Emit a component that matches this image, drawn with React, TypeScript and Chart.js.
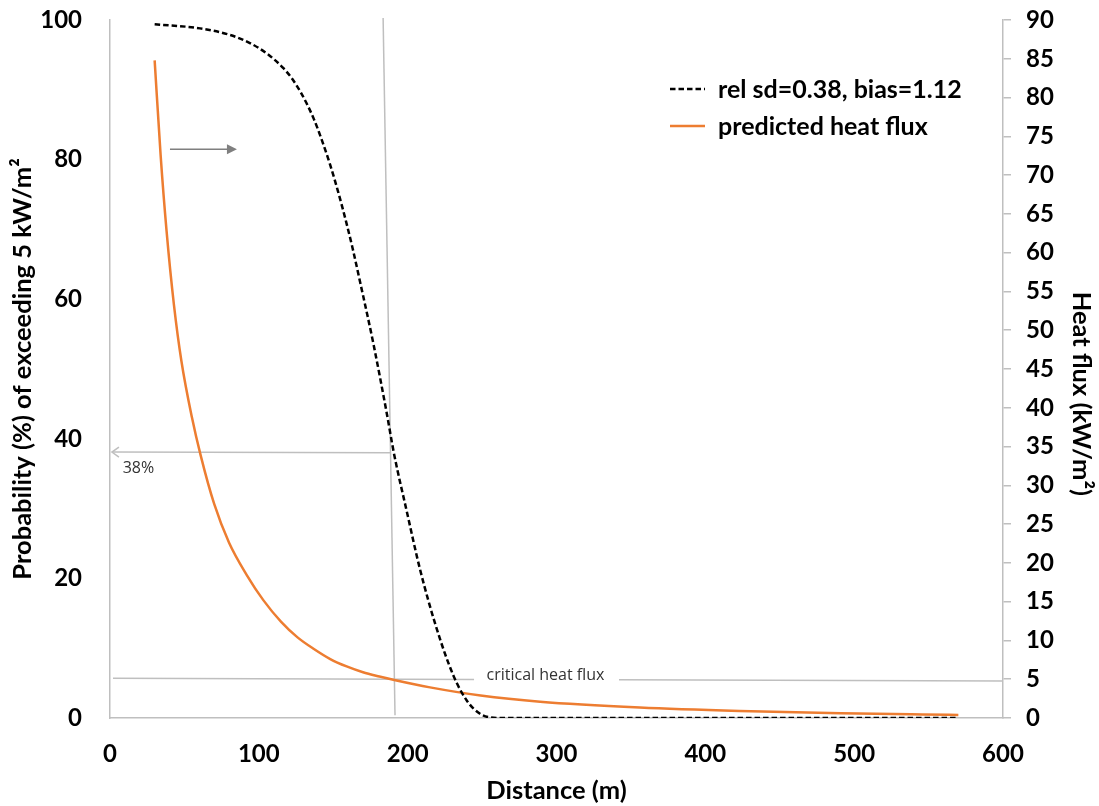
import React, { useEffect, useRef } from 'react';
import { Chart, registerables } from 'chart.js';

Chart.register(...registerables);

// Probability (%) of exceeding 5 kW/m² (left axis)
const probDistance = [30, 60.5, 80, 94, 106, 116.5, 122, 128, 132, 137, 142, 148, 153, 159, 163, 168, 177, 186, 190.8, 199.4, 208.3, 219.5, 230.7, 239.7, 248.6, 255, 265, 300, 400, 500, 570];
const probValues = [99.4, 98.8, 97.9, 96.7, 95.1, 93.1, 91.7, 89.7, 88.1, 85.8, 83.0, 79.2, 75.6, 70.8, 67.3, 62.5, 53.6, 43.6, 37.9, 29.6, 21.3, 12.8, 6.1, 2.5, 0.6, 0.1, 0, 0, 0, 0, 0];

// Predicted heat flux (kW/m², right axis)
const fluxDistance = [30, 34, 38, 43, 48, 55, 61, 70, 80, 92, 103, 115, 126, 137, 148, 159, 170, 181, 191, 215, 249, 289, 356, 423, 491, 546, 570];
const fluxValues = [84.8, 72.6, 62.8, 53.2, 46.0, 38.8, 33.8, 27.6, 22.6, 18.4, 15.2, 12.4, 10.4, 8.9, 7.6, 6.65, 5.9, 5.35, 4.9, 3.95, 2.9, 2.1, 1.35, 0.9, 0.6, 0.45, 0.4];

const seriesLabels = ['rel sd=0.38, bias=1.12', 'predicted heat flux'];

// Annotations in data units
const vLine = { x0: 183.5, p0: 100.3, x1: 191.5, p1: 0.4 };
const pctArrow = { xFrom: 188.2, xTo: 1.3, pFrom: 38.0, pTo: 38.1, label: '38%', labelX: 8.5, labelP: 35.8 };
const criticalLine = { xStart: 2, qStart: 5.12, xEnd: 600, qEnd: 4.77, gapStart: 244.6, gapEnd: 342, label: 'critical heat flux', labelX: 253, labelQ: 5.5 };
const rightArrow = { xFrom: 40.3, xTo: 85.3, p: 81.5 };

const FONT = 'Lato';
const TICK_FONT = { family: FONT, size: 24, weight: 'bold' as const };
const TITLE_FONT = { family: FONT, size: 25.5, weight: 'bold' as const };
const NOTE_FONT = "16px 'Open Sans'";

export default function App() {
  const ref = useRef<HTMLCanvasElement>(null);

  useEffect(() => {
    const annotPlugin = {
      id: 'annot',
      beforeDatasetsDraw(chart: any) {
        const { ctx, scales } = chart;
        const x = scales.x, y = scales.y, y1 = scales.y1;
        ctx.save();
        ctx.lineCap = 'butt';
        ctx.strokeStyle = '#bfbfbf';
        ctx.lineWidth = 1.5;
        // vertical line
        ctx.beginPath();
        ctx.moveTo(x.getPixelForValue(vLine.x0), y.getPixelForValue(vLine.p0));
        ctx.lineTo(x.getPixelForValue(vLine.x1), y.getPixelForValue(vLine.p1));
        ctx.stroke();

        // 38% arrow
        const ax0 = x.getPixelForValue(pctArrow.xFrom), ay0 = y.getPixelForValue(pctArrow.pFrom);
        const ax1 = x.getPixelForValue(pctArrow.xTo), ay1 = y.getPixelForValue(pctArrow.pTo);
        ctx.beginPath();
        ctx.moveTo(ax0, ay0);
        ctx.lineTo(ax1, ay1);
        ctx.stroke();
        ctx.beginPath();
        ctx.moveTo(ax1 + 7, ay1 - 5);
        ctx.lineTo(ax1, ay1);
        ctx.lineTo(ax1 + 7, ay1 + 5);
        ctx.stroke();
        ctx.fillStyle = '#333';
        ctx.font = NOTE_FONT;
        ctx.textAlign = 'left';
        ctx.textBaseline = 'middle';
        ctx.fillText(pctArrow.label, x.getPixelForValue(pctArrow.labelX), y.getPixelForValue(pctArrow.labelP));

        // critical heat flux line
        const cx0 = x.getPixelForValue(criticalLine.xStart), cy0 = y1.getPixelForValue(criticalLine.qStart);
        const cx1 = x.getPixelForValue(criticalLine.xEnd), cy1 = y1.getPixelForValue(criticalLine.qEnd);
        const interp = (xv: number) => {
          const px = x.getPixelForValue(xv);
          return [px, cy0 + (cy1 - cy0) * (px - cx0) / (cx1 - cx0)];
        };
        const g0 = interp(criticalLine.gapStart), g1 = interp(criticalLine.gapEnd);
        ctx.beginPath();
        ctx.moveTo(cx0, cy0);
        ctx.lineTo(g0[0], g0[1]);
        ctx.moveTo(g1[0], g1[1]);
        ctx.lineTo(cx1, cy1);
        ctx.stroke();
        ctx.fillStyle = '#333';
        ctx.font = NOTE_FONT;
        ctx.fillText(criticalLine.label, x.getPixelForValue(criticalLine.labelX), y1.getPixelForValue(criticalLine.labelQ));

        // top arrow pointing right
        const rx0 = x.getPixelForValue(rightArrow.xFrom), rx1 = x.getPixelForValue(rightArrow.xTo);
        const ry = y.getPixelForValue(rightArrow.p);
        ctx.strokeStyle = '#7f7f7f';
        ctx.fillStyle = '#7f7f7f';
        ctx.lineWidth = 1.5;
        ctx.beginPath();
        ctx.moveTo(rx0, ry);
        ctx.lineTo(rx1 - 8, ry);
        ctx.stroke();
        ctx.beginPath();
        ctx.moveTo(rx1, ry);
        ctx.lineTo(rx1 - 10, ry - 5);
        ctx.lineTo(rx1 - 10, ry + 5);
        ctx.closePath();
        ctx.fill();
        ctx.restore();
      },
      afterDraw(chart: any) {
        const { ctx } = chart;
        const ds = chart.data.datasets;
        ctx.save();
        const sx0 = 670, sx1 = 705, tx = 718;
        const rows = [89, 126];
        ds.forEach((d: any, i: number) => {
          ctx.strokeStyle = d.borderColor;
          ctx.lineWidth = d.borderWidth;
          ctx.setLineDash(d.borderDash || []);
          ctx.beginPath();
          ctx.moveTo(sx0, rows[i]);
          ctx.lineTo(sx1, rows[i]);
          ctx.stroke();
          ctx.setLineDash([]);
          ctx.fillStyle = '#000';
          ctx.font = `bold 25px ${FONT}`;
          ctx.textAlign = 'left';
          ctx.textBaseline = 'middle';
          ctx.fillText(d.label, tx, rows[i] + 1);
        });
        ctx.restore();
      },
    };

    const fitVertical = (w: number) => (s: any) => {
      s.width = w;
      s.paddingTop = 20;
      s.paddingBottom = 0;
    };

    const chart = new Chart(ref.current!, {
      type: 'line',
      data: {
        datasets: [
          {
            label: seriesLabels[0],
            data: probDistance.map((d, i) => ({ x: d, y: probValues[i] })),
            yAxisID: 'y',
            borderColor: '#000000',
            borderDash: [5.5, 3],
            borderWidth: 2.5,
            pointRadius: 0,
            cubicInterpolationMode: 'monotone',
            fill: false,
          },
          {
            label: seriesLabels[1],
            data: fluxDistance.map((d, i) => ({ x: d, y: fluxValues[i] })),
            yAxisID: 'y1',
            borderColor: '#ED7D31',
            borderWidth: 2.5,
            pointRadius: 0,
            cubicInterpolationMode: 'monotone',
            fill: false,
          },
        ],
      },
      options: {
        responsive: false,
        animation: false,
        layout: { padding: { top: 0, left: 0, right: 0, bottom: 0 } },
        plugins: { legend: { display: false }, tooltip: { enabled: false } },
        scales: {
          x: {
            type: 'linear',
            min: 0,
            max: 600,
            ticks: { stepSize: 100, padding: 22, font: TICK_FONT, color: '#000' },
            grid: { display: false, drawTicks: false },
            border: { display: true, color: '#bfbfbf', width: 1.5 },
            title: { display: true, text: 'Distance (m)', font: TITLE_FONT, color: '#000', padding: { top: 0, bottom: 0 } },
            afterFit: (s: any) => { s.height = 88; s.paddingLeft = 0; s.paddingRight = 0; },
          },
          y: {
            type: 'linear',
            position: 'left',
            min: 0,
            max: 100,
            ticks: { stepSize: 20, padding: 28, font: TICK_FONT, color: '#000' },
            grid: { display: false, drawTicks: false },
            border: { display: true, color: '#bfbfbf', width: 1.5 },
            title: { display: true, text: 'Probability (%) of exceeding 5 kW/m²', font: TITLE_FONT, color: '#000', padding: { top: 7, bottom: 0 } },
            afterFit: fitVertical(110),
          },
          y1: {
            type: 'linear',
            position: 'right',
            min: 0,
            max: 90,
            ticks: { stepSize: 5, padding: 15, font: TICK_FONT, color: '#000' },
            grid: { display: true, drawOnChartArea: false, drawTicks: true, tickLength: 8, color: '#bfbfbf', lineWidth: 1.5 },
            border: { display: true, color: '#bfbfbf', width: 1.5 },
            title: { display: true, text: '        Heat flux (kW/m²)', font: TITLE_FONT, color: '#000', padding: { top: 2, bottom: 0 } },
            afterFit: fitVertical(96),
          },
        },
      } as any,
      plugins: [annotPlugin],
    });
    return () => chart.destroy();
  }, []);

  return (
    <div style={{ position: 'fixed', left: 0, top: 0, width: 1099, height: 806, background: '#fff' }}>
      <canvas ref={ref} width={1099} height={806} style={{ width: 1099, height: 806, display: 'block' }} />
    </div>
  );
}
